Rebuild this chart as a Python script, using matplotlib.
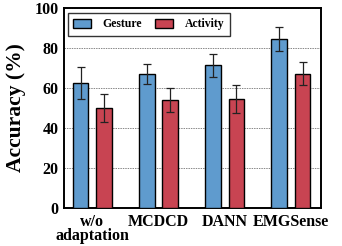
import matplotlib
matplotlib.use("Agg")
import matplotlib.pyplot as plt
import numpy as np

categories = ["w/o\nadaptation", "MCDCD", "DANN", "EMGSense"]
gesture = [62.3, 67.0, 71.3, 84.3]
gesture_err = [8.0, 4.8, 5.7, 6.0]
activity = [50.0, 54.0, 54.7, 67.2]
activity_err = [7.0, 6.0, 7.0, 5.7]
yticks = [0, 20, 40, 60, 80, 100]

plt.rcParams['font.family'] = ['Liberation Serif', 'DejaVu Serif']
plt.rcParams['font.weight'] = 'bold'

fig = plt.figure(figsize=(3.42, 2.46), dpi=100)
ax = fig.add_axes([64/342, 1-208/246, (321-64)/342, 200/246])

x = np.arange(len(categories))
w = 0.24
off = 0.18
blue = "#5F9BCE"
red = "#C84452"
ekw = dict(elinewidth=0.9, capthick=0.9, ecolor="#222222")
ax.bar(x - off, gesture, w, color=blue, edgecolor="black", linewidth=1.0,
       yerr=gesture_err, capsize=3, error_kw=ekw, label="Gesture", zorder=3)
ax.bar(x + off, activity, w, color=red, edgecolor="black", linewidth=1.0,
       yerr=activity_err, capsize=3, error_kw=ekw, label="Activity", zorder=3)

ax.set_xlim(-0.43, 3.46)
ax.set_ylim(0, 100)
ax.set_yticks(yticks)
ax.set_yticklabels([str(t) for t in yticks], fontsize=11.5, fontweight='bold')
ax.set_xticks(x)
ax.set_xticklabels(categories, fontsize=11.5, fontweight='bold', linespacing=0.85)
ax.tick_params(axis='both', length=0, pad=4)
ax.set_ylabel("Accuracy (%)", fontsize=15.5, fontweight='bold', labelpad=6)
ax.yaxis.grid(True, linestyle=(0, (1.5, 1)), color="#888888", linewidth=0.7, zorder=0)
for s in ax.spines.values():
    s.set_linewidth(1.4)

leg = ax.legend(ncol=2, loc='upper left', bbox_to_anchor=(0.0156, 0.975), borderaxespad=0,
                frameon=True, fancybox=False, edgecolor="black", handlelength=1.5,
                handleheight=0.8, columnspacing=1.1, borderpad=0.45, handletextpad=1.0,
                prop=dict(weight='bold', size=8.5))
leg.get_frame().set_linewidth(1.0)

fig.savefig("out.png", dpi=100)
